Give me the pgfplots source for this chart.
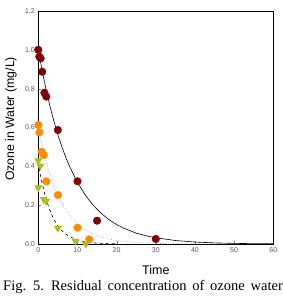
\documentclass[border=0pt]{standalone}
\usepackage{pgfplots}
\pgfplotsset{compat=1.18}
\usepackage{fontspec}
\setmainfont{Liberation Sans}
\newfontfamily\capfont[WordSpace=1.6]{Liberation Serif}
\definecolor{darkred}{RGB}{128,0,0}
\definecolor{ozorange}{RGB}{255,140,0}
\definecolor{ozgreen}{RGB}{175,190,25}
\definecolor{ticktext}{RGB}{85,85,85}
\begin{document}
\begin{tikzpicture}[x=1pt,y=1pt]
\useasboundingbox (0,0) rectangle (282,300);
\begin{axis}[
  at={(38.3pt,56pt)}, anchor=south west,
  scale only axis, width=235pt, height=233pt,
  xmin=0, xmax=60, ymin=0, ymax=1.2,
  xtick={0,10,...,60}, ytick={0,0.2,...,1.2},
  yticklabel style={/pgf/number format/.cd,fixed,fixed zerofill,precision=1},
  /pgf/number format/assume math mode=true,
  tick label style={font=\fontsize{7}{8}\selectfont, text=ticktext},
  tick align=inside, major tick length=3pt,
  xtick pos=bottom, ytick pos=left,
  axis line style={line width=0.8pt},
  xlabel={Time}, ylabel={Ozone in Water (mg/L)},
  xlabel style={font=\fontsize{12.5}{14}\selectfont, at={(axis description cs:0.5,-0.1116)}, anchor=center},
  ylabel style={font=\fontsize{12.3}{14}\selectfont, at={(axis description cs:-0.116,0.5365)}, anchor=center},
  clip=true,
]
% first-order decay fits
\addplot[black, line width=0.6pt] coordinates {
 (0,1.0) (1,0.891) (2,0.794) (3,0.708) (4,0.631) (5,0.563) (6,0.502) (7,0.447)
 (8,0.399) (10,0.317) (12,0.252) (14,0.200) (16,0.159) (18,0.126) (20,0.100)
 (22,0.080) (25,0.056) (28,0.040) (30,0.032) (35,0.018) (40,0.010) (45,0.0057)
 (50,0.0032) (55,0.0018) (60,0.001)};
\addplot[gray, dotted, line width=0.6pt] coordinates {
 (0,0.6) (1,0.504) (2,0.423) (3,0.355) (4,0.298) (5,0.250) (6,0.210) (7,0.176)
 (8,0.148) (10,0.104) (12,0.073) (14,0.052) (16,0.036) (18,0.026) (20,0.018)
 (25,0.0076) (30,0.003) (40,0.0005) (60,0.0)};
\addplot[black, dashed, line width=0.6pt] coordinates {
 (0,0.42) (0.5,0.361) (1,0.311) (1.5,0.268) (2,0.230) (3,0.171) (4,0.126)
 (5,0.094) (6,0.069) (7,0.051) (8,0.038) (10,0.021) (12,0.011) (14,0.006)
 (16,0.003) (20,0.001)};
% measured residual ozone
\addplot[only marks, mark=*, mark size=3.8pt, darkred, mark options={draw=darkred, fill=darkred}] coordinates {
 (0,1.0) (0.25,0.965) (0.6,0.956) (1.0,0.887) (1.55,0.779) (2.05,0.759)
 (5,0.587) (10,0.323) (15,0.12) (30,0.026)};
\addplot[only marks, mark=*, mark size=3.8pt, ozorange, mark options={draw=ozorange, fill=ozorange}] coordinates {
 (0,0.613) (0.26,0.575) (0.87,0.475) (1.38,0.458) (2.05,0.323) (5,0.252)
 (10,0.084) (13,0.024)};
\addplot[only marks, mark=triangle*, mark size=4.2pt, ozgreen, mark options={draw=ozgreen, fill=ozgreen, rotate=180}] coordinates {
 (0,0.429) (0.5,0.402) (0,0.29) (1.38,0.23) (1.97,0.221) (5,0.081)
 (9.5,0.015) (12.1,0.0)};
\end{axis}
\node[anchor=base west, inner sep=0pt, font=\capfont\fontsize{14.5}{17}\selectfont] at (3,9.5) {Fig. 5. Residual concentration of ozone water};
\end{tikzpicture}
\end{document}
